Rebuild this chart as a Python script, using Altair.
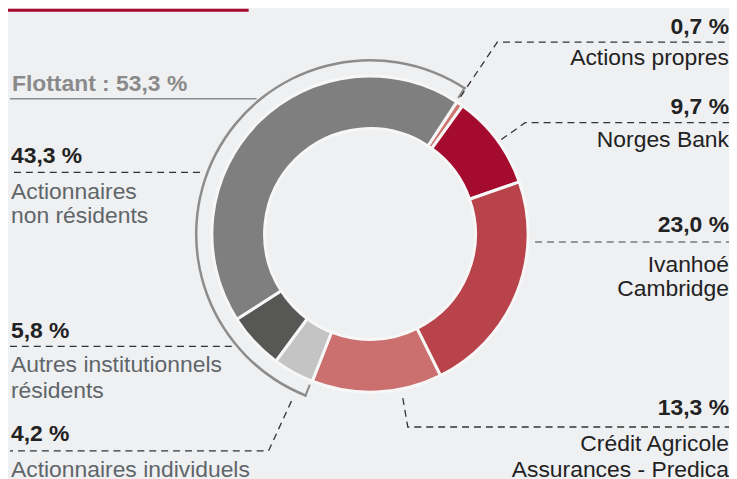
import math
import altair as alt
import pandas as pd

# ---------------- data ----------------
categories = ["Actions propres", "Norges Bank", "Ivanhoé Cambridge",
              "Crédit Agricole Assurances - Predica", "Actionnaires individuels",
              "Autres institutionnels résidents", "Actionnaires non résidents"]
shares = [0.7, 9.7, 23.0, 13.3, 4.2, 5.8, 43.3]
slice_colors = ["#d07672", "#a50b2e", "#b9434b", "#cb706e", "#c4c4c4", "#575755", "#7f7f7f"]
floating = ["Actionnaires individuels", "Autres institutionnels résidents", "Actionnaires non résidents"]

# label lines (per category)
label_lines = [["Actions propres"], ["Norges Bank"], ["Ivanhoé", "Cambridge"],
               ["Crédit Agricole", "Assurances - Predica"], ["Actionnaires individuels"],
               ["Autres institutionnels", "résidents"], ["Actionnaires", "non résidents"]]

def fr(v):
    return f"{v:.1f}".replace(".", ",") + " %"

# ---------------- layout (pixels) ----------------
W, H = 725, 471
CX, CY = 364, 226
R_OUT, R_IN = 159, 106
OFFSET = math.radians(33.3)
BG = "#eff0f2"

# label anchor: x, baseline of percent, baselines of lines, side
label_pos = [
    (725, 25, [56], "right"),
    (725, 105, [138], "right"),
    (725, 224, [264, 288], "right"),
    (725, 408, [444, 470], "right"),
    (3, 434, [470], "left"),
    (3, 331, [365, 391], "left"),
    (3, 155, [191, 215], "left"),
]
leaders = [
    ("dark", [(455, 88), (492, 33), (725, 33)]),
    ("dark", [(496, 131), (520, 114), (725, 114)]),
    ("gray", [(530, 234), (725, 234)]),
    ("dark", [(397, 391), (402, 420), (725, 420)]),
    ("dark", [(285, 394), (262, 444), (2, 444)]),
    ("dark", [(225, 339), (2, 339)]),
    ("dark", [(193, 164), (2, 164)]),
    ("solid", [(250, 90), (2, 90)]),
]

# ---------------- tables ----------------
cum = 0.0
rows = []
for c, v, col in zip(categories, shares, slice_colors):
    rows.append({"cat": c, "start": cum, "end": cum + v, "col": col})
    cum += v
slices = pd.DataFrame(rows)

fl_start = slices[slices.cat.isin(floating)].start.min()
fl_end = slices[slices.cat.isin(floating)].end.max()
fl_total = sum(v for c, v in zip(categories, shares) if c in floating)
bracket = pd.DataFrame([{"start": fl_start, "end": fl_end}])
ticks = pd.DataFrame([{"start": fl_start, "end": fl_start + 0.2},
                      {"start": fl_end - 0.2, "end": fl_end}])

theta_scale = alt.Scale(domain=[0, 100], range=[OFFSET, OFFSET + 2 * math.pi])

pct_rows, lab_rows = [], []
for c, v, lines, (x, yp, ys, side) in zip(categories, shares, label_lines, label_pos):
    pct_rows.append({"t": fr(v), "x": x, "y": yp, "side": side})
    for ln, y in zip(lines, ys):
        lab_rows.append({"t": ln, "x": x, "y": y, "side": side})
pct_df = pd.DataFrame(pct_rows)
lab_df = pd.DataFrame(lab_rows)

seg_rows = []
for i, (style, pts) in enumerate(leaders):
    for j, (x, y) in enumerate(pts):
        seg_rows.append({"seg": i, "o": j, "x": x, "y": y, "style": style})
seg_df = pd.DataFrame(seg_rows)

FONT = "Liberation Sans"
FS = 23

# ---------------- marks ----------------
donut = alt.Chart(slices).mark_arc(radius=R_OUT, innerRadius=R_IN, stroke="#f7f7f7",
                                   strokeWidth=3).encode(
    theta=alt.Theta("start:Q", scale=theta_scale, stack=None),
    theta2="end:Q",
    color=alt.Color("col:N", scale=None),
    x=alt.value(CX), y=alt.value(CY),
)
brk = alt.Chart(bracket).mark_arc(radius=176, innerRadius=173.5, color="#8c8c8c").encode(
    theta=alt.Theta("start:Q", scale=theta_scale, stack=None), theta2="end:Q",
    x=alt.value(CX), y=alt.value(CY),
)
brk_ticks = alt.Chart(ticks).mark_arc(radius=176, innerRadius=163, color="#8c8c8c").encode(
    theta=alt.Theta("start:Q", scale=theta_scale, stack=None), theta2="end:Q",
    x=alt.value(CX), y=alt.value(CY),
)

def lines(style, color, dash, width=1.3):
    kw = dict(color=color, strokeWidth=width)
    if dash:
        kw["strokeDash"] = dash
    return alt.Chart(seg_df[seg_df["style"] == style]).mark_line(**kw).encode(
        x=alt.X("x:Q", scale=None, axis=None),
        y=alt.Y("y:Q", scale=None, axis=None),
        detail="seg:N", order="o:Q")

def texts(df, align, color, weight):
    return alt.Chart(df).mark_text(align=align, baseline="alphabetic", font=FONT,
                                   fontSize=FS, fontWeight=weight, color=color).encode(
        x=alt.X("x:Q", scale=None, axis=None),
        y=alt.Y("y:Q", scale=None, axis=None),
        text="t:N")

flot_df = pd.DataFrame([{"t": "Flottant : " + fr(fl_total), "x": 4, "y": 82}])
topbar = pd.DataFrame([{"x": 0, "y": 1}, {"x": 242, "y": 1}])

layers = [
    alt.Chart(topbar).mark_line(color="#a50b2e", strokeWidth=3).encode(
        x=alt.X("x:Q", scale=None, axis=None), y=alt.Y("y:Q", scale=None, axis=None)),
    brk, brk_ticks, donut,
    lines("dark", "#333333", [7, 5]),
    lines("gray", "#7a7a7a", [7, 5], 1.5),
    lines("solid", "#8c8c8c", None, 1.5),
    texts(pct_df[pct_df.side == "right"], "right", "#222222", "bold"),
    texts(pct_df[pct_df.side == "left"], "left", "#222222", "bold"),
    texts(lab_df[lab_df.side == "right"], "right", "#222222", "normal"),
    texts(lab_df[lab_df.side == "left"], "left", "#5f666a", "normal"),
    texts(flot_df, "left", "#8a8a8a", "bold"),
]

chart = alt.layer(*layers).properties(
    width=W, height=H, padding=0, autosize=alt.AutoSizeParams(type="none"),
    background=BG,
).configure_view(stroke=None)

chart.save("out.html", embed_options={"renderer": "svg", "actions": False})
